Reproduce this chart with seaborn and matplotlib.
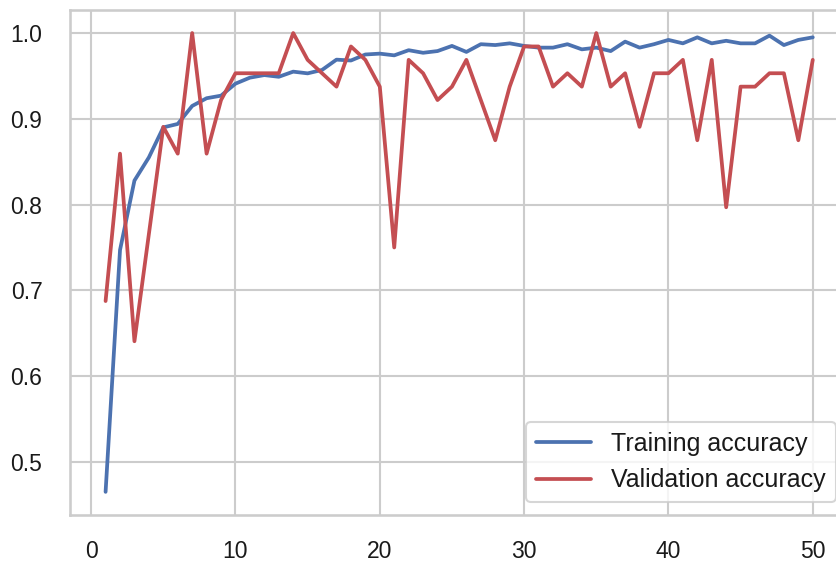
import numpy as np
import seaborn as sns
import matplotlib.pyplot as plt

# 风格: whitegrid + talk
sns.set_theme(style="whitegrid", context="talk")
plt.rcParams['font.family'] = ['Liberation Sans', 'DejaVu Sans']
plt.rcParams['xtick.major.pad'] = 9
plt.rcParams['ytick.major.pad'] = 11
plt.rcParams['text.color'] = '#1a1a1a'
plt.rcParams['xtick.color'] = '#1a1a1a'
plt.rcParams['ytick.color'] = '#1a1a1a'

epochs = list(range(1, 51))

# 训练准确率
train_acc = [0.465, 0.747, 0.828, 0.855, 0.890, 0.894, 0.915, 0.924, 0.927, 0.941,
             0.948, 0.951, 0.949, 0.955, 0.953, 0.957, 0.969, 0.968, 0.975, 0.976,
             0.974, 0.980, 0.977, 0.979, 0.985, 0.978, 0.987, 0.986, 0.988, 0.985,
             0.983, 0.983, 0.987, 0.981, 0.983, 0.979, 0.990, 0.983, 0.987, 0.992,
             0.988, 0.995, 0.988, 0.991, 0.988, 0.988, 0.997, 0.986, 0.992, 0.995]

# 验证准确率
val_acc = [0.6875, 0.859375, 0.640625, 0.765625, 0.890625, 0.859375, 1.0, 0.859375, 0.921875, 0.953125,
           0.953125, 0.953125, 0.953125, 1.0, 0.96875, 0.953125, 0.9375, 0.984375, 0.96875, 0.9375,
           0.75, 0.96875, 0.953125, 0.921875, 0.9375, 0.96875, 0.921875, 0.875, 0.9375, 0.984375,
           0.984375, 0.9375, 0.953125, 0.9375, 1.0, 0.9375, 0.953125, 0.890625, 0.953125, 0.953125,
           0.96875, 0.875, 0.96875, 0.796875, 0.9375, 0.9375, 0.953125, 0.953125, 0.875, 0.96875]

fig, ax = plt.subplots(figsize=(8.36, 5.62), dpi=100)
sns.lineplot(x=epochs, y=train_acc, color='b', lw=2.7, label='Training accuracy', ax=ax)
sns.lineplot(x=epochs, y=val_acc, color='r', lw=2.7, label='Validation accuracy', ax=ax)

ax.set_yticks([0.5, 0.6, 0.7, 0.8, 0.9, 1.0])
ax.tick_params(labelsize=16.5)
ax.legend(loc='lower right', fontsize=18, handlelength=2.2)

fig.subplots_adjust(left=0.084, right=1.0145, bottom=0.084, top=0.982)
fig.savefig('out.png', dpi=100)
